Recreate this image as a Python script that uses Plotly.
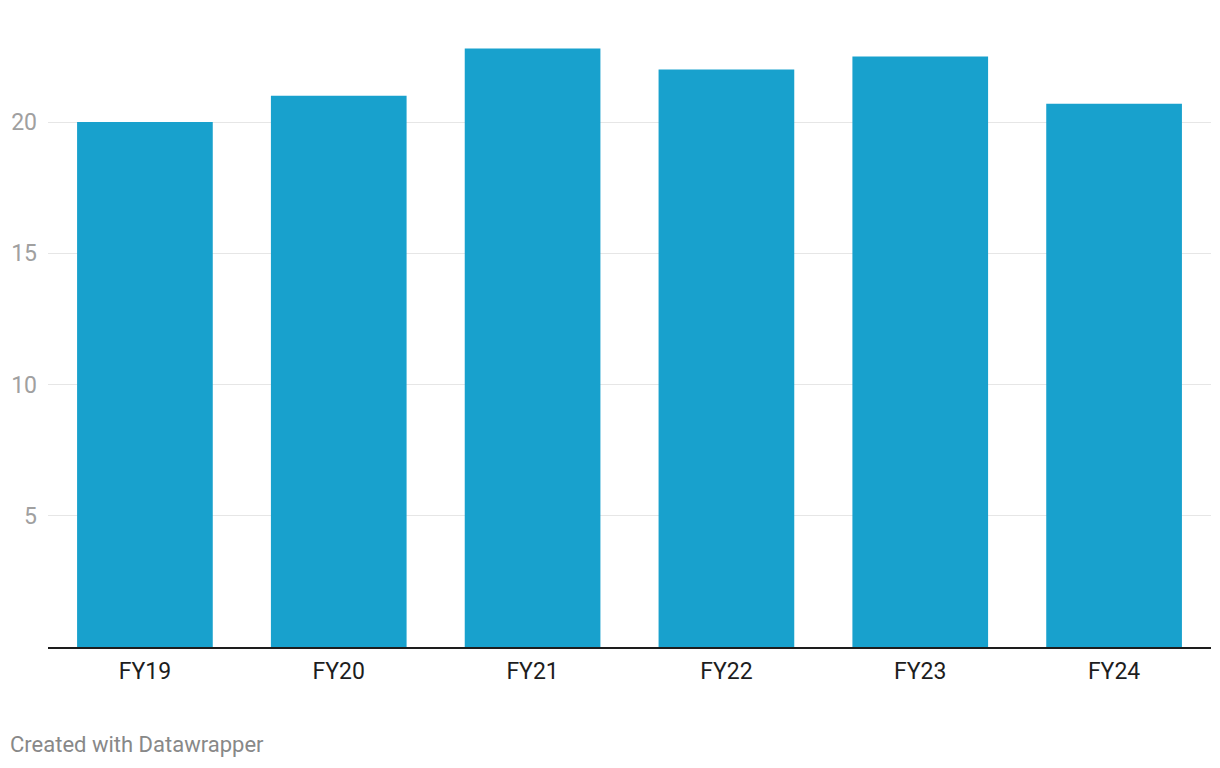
import plotly.graph_objects as go

categories = ["FY19", "FY20", "FY21", "FY22", "FY23", "FY24"]
values = [20.0, 21.0, 22.8, 22.0, 22.5, 20.7]
y_ticks = [5, 10, 15, 20]
y_tick_labels = ["5", "10", "15", "20"]

fig = go.Figure(go.Bar(
    x=categories, y=values,
    marker=dict(color="#18a1cd", line=dict(width=0)),
    hoverinfo="x+y",
))

# page has an 8px body margin, so coordinates are offset by 8
OFF = 8
W, H = 1220 - OFF, 768 - OFF
left, right = 48 - OFF, 1211 - OFF
top, bottom = 10 - OFF, 647 - OFF
credit_y = 745 - OFF
fig.update_layout(
    width=W, height=H,
    margin=dict(l=left, r=W - right, t=top, b=H - bottom, pad=0),
    paper_bgcolor="white", plot_bgcolor="white",
    bargap=0.3,
    showlegend=False,
    font=dict(family="Roboto", size=23, color="#1d1d1d"),
    xaxis=dict(
        showgrid=False, showline=True, linecolor="#1d1d1d", linewidth=2,
        ticks="", tickfont=dict(size=23, color="#1d1d1d"),
        ticklabelstandoff=2, fixedrange=True,
    ),
    yaxis=dict(
        range=[0, (bottom - top) / 26.25],
        tickvals=y_ticks, ticktext=y_tick_labels,
        showgrid=True, gridcolor="#e6e6e6", gridwidth=1,
        zeroline=False, showline=False, ticks="",
        tickfont=dict(size=23, color="#a0a0a0"),
        ticklabelstandoff=10, fixedrange=True,
    ),
    annotations=[dict(
        text="Created with Datawrapper", xref="paper", yref="paper",
        x=-(left) / (right - left), y=-(credit_y - bottom) / (bottom - top),
        xanchor="left", yanchor="middle", showarrow=False,
        font=dict(family="Roboto", size=22, color="#888888"),
    )],
)

fig.write_html("out.html")
